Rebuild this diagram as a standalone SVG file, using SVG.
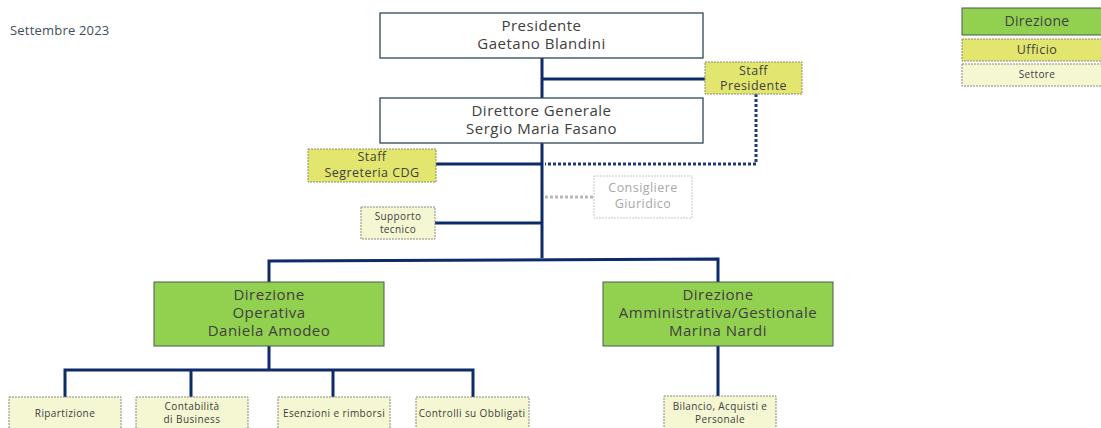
<svg xmlns="http://www.w3.org/2000/svg" width="1101" height="428" viewBox="0 0 1101 428">
<style>
text{font-family:"Open Sans","Noto Sans","Liberation Sans",sans-serif;fill:#404040;text-anchor:middle}
.main{fill:#fff;stroke:#2F4858;stroke-width:1.3}
.dir{fill:#92D050;stroke:#4A5A50;stroke-width:1}
.uff{fill:#E2E66E;stroke:#8A8A6A;stroke-width:1;stroke-dasharray:2 1}
.set{fill:#F5F6D2;stroke:#8A8A7A;stroke-width:1;stroke-dasharray:2 1}
.cons{fill:#fff;stroke:#C8C8C8;stroke-width:1;stroke-dasharray:2 1}
.ln{fill:none;stroke:#0D2A6B;stroke-width:3}
.dot{fill:none;stroke:#1F3A7A;stroke-width:3;stroke-dasharray:3 2}
.gdot{fill:none;stroke:#B8B8B8;stroke-width:3;stroke-dasharray:3 2}
.t15{font-size:15px;letter-spacing:0.5px}
.t12{font-size:12.5px;letter-spacing:0.45px}
.t10{font-size:10px;letter-spacing:0.4px}
</style>
<rect width="1101" height="428" fill="#fff"/>
<text x="10" y="35" font-size="13" style="text-anchor:start;fill:#3F4F5A;letter-spacing:0.2px">Settembre 2023</text>

<g id="connectors">
<path class="ln" d="M542 58V258"/>
<path class="ln" d="M542 79H705"/>
<path class="dot" d="M756 94V164H545"/>
<path class="ln" d="M436 164H542"/>
<path class="gdot" d="M545 197H594"/>
<path class="ln" d="M435 223H542"/>
<path class="ln" d="M269 282V261L718 259V282"/>
<path class="ln" d="M269 346V371"/>
<path class="ln" d="M65 397V370H473V397"/>
<path class="ln" d="M191 371V397"/>
<path class="ln" d="M333 371V397"/>
<path class="ln" d="M718 346V396"/>
</g>

<g id="presidente">
<rect class="main" x="380" y="13" width="323" height="45"/>
<text class="t15" x="541.5" y="31">Presidente</text>
<text class="t15" x="541.5" y="49">Gaetano Blandini</text>
</g>
<g id="staff-presidente">
<rect class="uff" x="705" y="62" width="97" height="32"/>
<text class="t12" x="753.5" y="75">Staff</text>
<text class="t12" x="753.5" y="90">Presidente</text>
</g>
<g id="direttore-generale">
<rect class="main" x="380" y="98" width="323" height="45"/>
<text class="t15" x="541.5" y="116">Direttore Generale</text>
<text class="t15" x="541.5" y="134">Sergio Maria Fasano</text>
</g>
<g id="staff-segreteria">
<rect class="uff" x="308" y="149" width="128" height="33"/>
<text class="t12" x="372" y="161">Staff</text>
<text class="t12" x="372" y="177">Segreteria CDG</text>
</g>
<g id="consigliere-giuridico">
<rect class="cons" x="594" y="176" width="98" height="42"/>
<text class="t12" x="643" y="192" style="fill:#A8A8A8">Consigliere</text>
<text class="t12" x="643" y="208" style="fill:#A8A8A8">Giuridico</text>
</g>
<g id="supporto-tecnico">
<rect class="set" x="361" y="207" width="74" height="32"/>
<text class="t10" x="398" y="220">Supporto</text>
<text class="t10" x="398" y="233">tecnico</text>
</g>
<g id="direzione-operativa">
<rect class="dir" x="154" y="282" width="230" height="64"/>
<text class="t15" x="269" y="300">Direzione</text>
<text class="t15" x="269" y="318">Operativa</text>
<text class="t15" x="269" y="336">Daniela Amodeo</text>
</g>
<g id="direzione-amministrativa">
<rect class="dir" x="603" y="282" width="230" height="64"/>
<text class="t15" x="718" y="300">Direzione</text>
<text class="t15" x="718" y="318">Amministrativa/Gestionale</text>
<text class="t15" x="718" y="336">Marina Nardi</text>
</g>
<g id="ripartizione">
<rect class="set" x="9" y="397" width="112" height="40"/>
<text class="t10" x="65" y="417">Ripartizione</text>
</g>
<g id="contabilita">
<rect class="set" x="136" y="397" width="112" height="40"/>
<text class="t10" x="192" y="410">Contabilità</text>
<text class="t10" x="192" y="423">di Business</text>
</g>
<g id="esenzioni">
<rect class="set" x="278" y="397" width="112" height="40"/>
<text class="t10" x="334" y="417">Esenzioni e rimborsi</text>
</g>
<g id="controlli">
<rect class="set" x="416" y="397" width="113" height="40"/>
<text class="t10" x="472" y="417">Controlli su Obbligati</text>
</g>
<g id="bilancio">
<rect class="set" x="664" y="396" width="112" height="40"/>
<text class="t10" x="720" y="410">Bilancio, Acquisti e</text>
<text class="t10" x="720" y="423">Personale</text>
</g>

<g id="legend-direzione">
<rect class="dir" x="962" y="8" width="150" height="27"/>
<text x="1037" y="26" font-size="14" letter-spacing="0.3">Direzione</text>
</g>
<g id="legend-ufficio">
<rect class="uff" x="962" y="39" width="150" height="22"/>
<text class="t12" x="1037" y="54">Ufficio</text>
</g>
<g id="legend-settore">
<rect class="set" x="962" y="64" width="150" height="22"/>
<text class="t10" x="1037" y="78">Settore</text>
</g>
</svg>
